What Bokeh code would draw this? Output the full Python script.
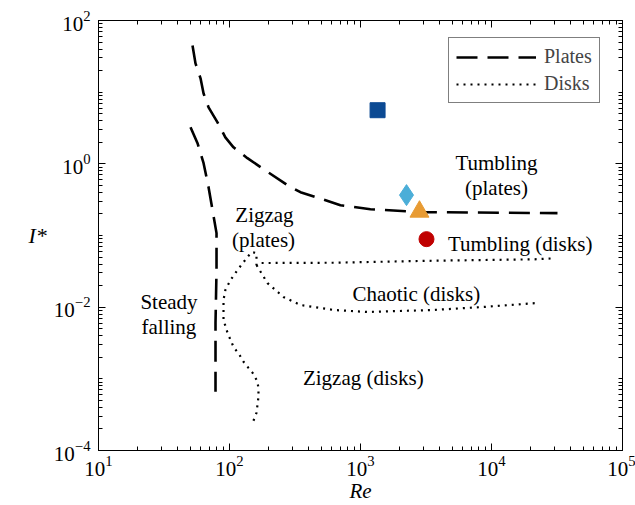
from bokeh.plotting import figure
from bokeh.models import FixedTicker, LogAxis, Legend, LegendItem, CustomJSTickFormatter
from bokeh.core.properties import value
from bokeh.embed import file_html
from bokeh.resources import INLINE

# ---- data ----
# Plates: upper boundary (zigzag -> tumbling)
plates_upper_re = [52.2, 55.0, 60.1, 63.4, 69.2, 81.0, 93.0, 107.3, 137, 172.5, 277, 348, 703, 1191, 2870, 31900]
plates_upper_i = [44.9, 25.2, 15.6, 9.6, 6.14, 3.79, 2.34, 1.70, 1.20, 0.90, 0.503, 0.402, 0.265, 0.233, 0.212, 0.205]
# Plates: lower boundary (steady falling -> zigzag)
plates_lower_re = [50.4, 57.0, 63.4, 69.2, 74.2, 79.6, 79.6, 78.2, 78.2]
plates_lower_i = [3.24, 1.94, 1.02, 0.472, 0.226, 0.108, 0.033, 0.0060, 0.000659]
# Disks: left branch + upper branch (zigzag/steady, chaotic/tumbling)
disks_main_re = [152.4, 160.7, 166.4, 166.4, 163.6, 152.4, 139.6, 127.9, 119.2, 107.3, 96.6, 90.0, 90.0, 90.0,
                 93.0, 101.8, 115.1, 137.1, 147.2, 160.7, 160.7, 172.5, 622, 3606, 20940, 29700]
disks_main_i = [2.60e-4, 3.36e-4, 5.61e-4, 7.26e-4, 9.08e-4, 1.17e-3, 1.42e-3, 1.73e-3, 2.16e-3, 2.79e-3,
                4.38e-3, 6.64e-3, 9.14e-3, 0.0126, 0.0174, 0.0239, 0.0330, 0.0500, 0.0587, 0.0569, 0.0387,
                0.0413, 0.0417, 0.0445, 0.0465, 0.0480]
# Disks: lower branch (zigzag -> chaotic)
disks_lower_re = [160.7, 195, 258, 348, 622, 1130, 3606, 8690, 22440]
disks_lower_i = [0.0387, 0.0217, 0.01387, 0.01073, 0.00914, 0.00857, 0.00914, 0.01007, 0.01143]
# Experimental points
points_re = [1350, 2245, 2820, 3190]
points_i = [5.6, 0.366, 0.215, 0.089]

# Region labels
region_text = ["Tumbling", "(plates)", "Tumbling (disks)", "Chaotic (disks)", "Zigzag", "(plates)",
               "Steady", "falling", "Zigzag (disks)"]
region_re = [10914, 10914, 16560, 2667, 184.9, 182, 34.5, 34.5, 1050]
region_i = [1.029, 0.4616, 0.0752, 0.01514, 0.1923, 0.0863, 0.01194, 0.00535, 0.001023]

# Ticks
x_major = [1e1, 1e2, 1e3, 1e4, 1e5]
x_minor = [k * 10.0 ** e for e in range(1, 5) for k in range(2, 10)]
y_major = [1e-4, 1e-2, 1e0, 1e2]
y_minor = [k * 10.0 ** e for e in range(-4, 2) for k in range(1, 10) if not (k == 1 and e % 2 == 0)]

# ---- styles ----
point_markers = ["square", "diamond", "triangle", "circle"]
point_colors = ["#0C4A93", "#4BAED8", "#E89B33", "#C00000"]
point_sizes = [15, 21, 19, 15]
SERIF = "Liberation Serif"

p = figure(width=635, height=505, x_axis_type="log", y_axis_type="log",
           x_range=(1e1, 1e5), y_range=(1e-4, 1e2),
           output_backend="svg", toolbar_location=None,
           min_border_left=98, min_border_right=13, min_border_top=20, min_border_bottom=54)
p.background_fill_color = "white"
p.border_fill_color = "white"
p.outline_line_color = "black"
p.outline_line_width = 1
p.xgrid.grid_line_color = None
p.ygrid.grid_line_color = None


def style_axis(ax, show_labels=True):
    ax.axis_line_color = "black"
    ax.major_tick_line_color = "black"
    ax.minor_tick_line_color = "black"
    ax.major_tick_in = 7
    ax.major_tick_out = 0
    ax.minor_tick_in = 4
    ax.minor_tick_out = 0
    ax.major_label_text_font = SERIF
    ax.major_label_text_color = "black"
    if show_labels:
        ax.major_label_text_font_size = "21px"
    else:
        ax.formatter = CustomJSTickFormatter(code="return ''")
        ax.major_label_text_font_size = "1px"
        ax.major_label_standoff = 0


xax = p.xaxis[0]
yax = p.yaxis[0]
xax.ticker = FixedTicker(ticks=x_major, minor_ticks=x_minor)
yax.ticker = FixedTicker(ticks=y_major, minor_ticks=y_minor)
style_axis(xax)
style_axis(yax)
xax.major_label_standoff = 5
yax.major_label_standoff = 8

for ax, txt in ((xax, "Re"), (yax, "I*")):
    ax.axis_label = txt
    ax.axis_label_text_font = SERIF
    ax.axis_label_text_font_size = "22px"
    ax.axis_label_text_font_style = "italic"
    ax.axis_label_text_color = "black"
    ax.axis_label_standoff = 0
xax.axis_label_text_font_size = "21px"
try:
    yax.axis_label_orientation = "horizontal"
    yax.axis_label_standoff = 4
except Exception:
    pass

top_ax = LogAxis(ticker=FixedTicker(ticks=x_major, minor_ticks=x_minor))
style_axis(top_ax, show_labels=False)
p.add_layout(top_ax, "above")
right_ax = LogAxis(ticker=FixedTicker(ticks=y_major, minor_ticks=y_minor))
style_axis(right_ax, show_labels=False)
p.add_layout(right_ax, "right")

dash = "21 10"
dot = "2 5"
r_pu = p.line(plates_upper_re, plates_upper_i, line_color="black", line_width=2.6, line_dash=dash)
r_pl = p.line(plates_lower_re, plates_lower_i, line_color="black", line_width=2.6, line_dash=dash)
r_dm = p.line(disks_main_re, disks_main_i, line_color="black", line_width=2.2, line_dash=dot)
r_dl = p.line(disks_lower_re, disks_lower_i, line_color="black", line_width=2.2, line_dash=dot)

for i in range(len(points_re)):
    p.scatter([points_re[i]], [points_i[i]], marker=point_markers[i], size=point_sizes[i],
              fill_color=point_colors[i], line_color=point_colors[i])

p.text(x=region_re, y=region_i, text=region_text, text_font=value(SERIF), text_font_size="21px",
       text_align="center", text_baseline="alphabetic", text_color="black")

legend = Legend(items=[LegendItem(label="Plates", renderers=[r_pu]),
                       LegendItem(label="Disks", renderers=[r_dm])],
                location=(350, 347))
legend.border_line_color = "black"
legend.border_line_width = 1
legend.background_fill_color = "white"
legend.background_fill_alpha = 1
legend.label_text_font = SERIF
legend.label_text_font_size = "20px"
legend.glyph_width = 80
legend.glyph_height = 20
legend.label_height = 20
legend.spacing = 4
legend.padding = 7
legend.margin = 0
legend.label_standoff = 8
p.add_layout(legend)

open("out.html", "w").write(file_html(p, INLINE))
